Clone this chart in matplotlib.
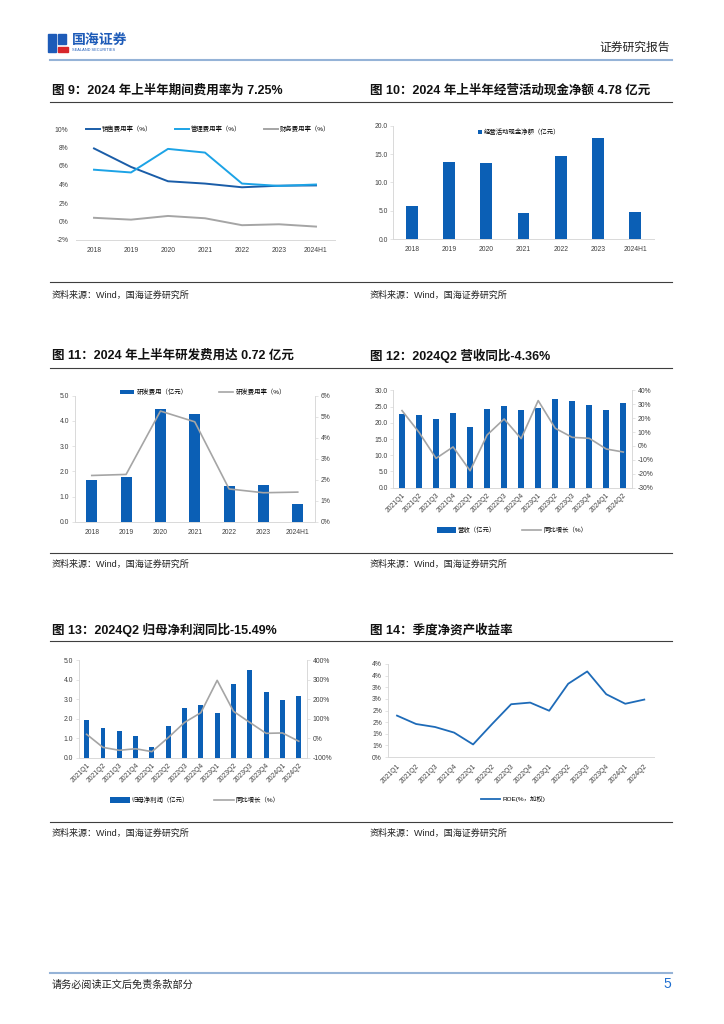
import matplotlib
matplotlib.use("Agg")
import matplotlib.pyplot as plt
from matplotlib.lines import Line2D
from matplotlib.patches import Rectangle
from matplotlib.ticker import PercentFormatter, FixedLocator, FixedFormatter

plt.rcParams['font.family'] = ['Liberation Sans', 'Noto Sans CJK SC', 'DejaVu Sans']
plt.rcParams['axes.unicode_minus'] = False

W, H = 724, 1024

# ---- data ----
years = ["2018", "2019", "2020", "2021", "2022", "2023", "2024H1"]
quarters = ["2021Q1", "2021Q2", "2021Q3", "2021Q4", "2022Q1", "2022Q2", "2022Q3",
            "2022Q4", "2023Q1", "2023Q2", "2023Q3", "2023Q4", "2024Q1", "2024Q2"]

sales_rate = [7.9, 5.9, 4.35, 4.1, 3.7, 3.87, 3.9]      # 销售费用率 %
admin_rate = [5.6, 5.3, 7.85, 7.45, 4.1, 3.85, 4.0]     # 管理费用率 %
fin_rate = [0.4, 0.2, 0.6, 0.35, -0.4, -0.3, -0.55]     # 财务费用率 %

op_cash = [5.9, 13.6, 13.35, 4.6, 14.7, 17.8, 4.78]     # 经营活动现金净额 亿元

rd_exp = [1.67, 1.78, 4.49, 4.27, 1.42, 1.48, 0.72]     # 研发费用 亿元
rd_rate = [2.21, 2.26, 5.27, 4.76, 1.57, 1.39, 1.42]    # 研发费用率 %

revenue = [22.7, 22.5, 21.1, 22.9, 18.6, 24.3, 25.2, 23.9, 24.5, 27.2, 26.7, 25.5, 24.0, 26.1]
rev_yoy = [25.4, 9.8, -8.9, -0.7, -17.8, 7.9, 19.4, 5.3, 32.6, 12.7, 6.2, 5.5, -2.2, -4.36]

np_parent = [1.92, 1.52, 1.37, 1.12, 0.57, 1.61, 2.55, 2.71, 2.31, 3.78, 4.5, 3.37, 2.95, 3.18]
np_yoy = [20, -47, -62, -54, -69, 3, 81, 131, 297, 138, 81, 25, 27, -15.49]

roe = [1.78, 1.42, 1.29, 1.05, 0.54, 1.42, 2.27, 2.34, 1.99, 3.15, 3.68, 2.70, 2.29, 2.47]
roe_ticks = [0, 0.5, 1.0, 1.5, 2.0, 2.5, 3.0, 3.5, 4.0]
roe_tick_labels = ["0%", "1%", "1%", "2%", "2%", "3%", "3%", "4%", "4%"]

BAR = '#0B5FB5'
DARK = '#1A5DA8'
LIGHT = '#1CA3E6'
GREY = '#A5A5A5'
TXT = '#404040'
AX = '#D9D9D9'


def fp(x, y):
    return x / W, 1 - y / H


def axes_px(x0, ytop, x1, ybot):
    return fig.add_axes([x0 / W, 1 - ybot / H, (x1 - x0) / W, (ybot - ytop) / H])


def hline(y, x0=50, x1=672, color='#3F3F3F', lw=0.8):
    fig.add_artist(Line2D([x0 / W, x1 / W], [1 - y / H, 1 - y / H], color=color, lw=lw,
                          transform=fig.transFigure))


def text_px(x, y, s, **kw):
    fig.text(*fp(x, y), s, va='center', **kw)


def style(ax):
    for s in ['top', 'right']:
        ax.spines[s].set_visible(False)
    ax.spines['left'].set_color(AX)
    ax.spines['bottom'].set_color(AX)
    ax.spines['left'].set_linewidth(0.7)
    ax.spines['bottom'].set_linewidth(0.7)
    ax.tick_params(axis='y', labelsize=4.9, colors=AX, labelcolor=TXT, length=2, width=0.5, pad=2)
    ax.tick_params(axis='x', labelsize=4.9, labelcolor=TXT, length=0, pad=5)


def style_right(ax2):
    for s in ['top', 'left', 'bottom']:
        ax2.spines[s].set_visible(False)
    ax2.spines['right'].set_color(AX)
    ax2.spines['right'].set_linewidth(0.7)
    ax2.tick_params(axis='y', labelsize=4.9, colors=AX, labelcolor=TXT, length=2, width=0.5, pad=2)


def legend_px(ax, handles, labels, cx, cy, **kw):
    opts = dict(handlelength=2.2, handletextpad=0.3)
    opts.update(kw)
    ax.legend(handles, labels, loc='center', bbox_to_anchor=fp(cx, cy),
              bbox_transform=fig.transFigure, frameon=False, fontsize=4.6,
              borderaxespad=0, **opts)


fig = plt.figure(figsize=(W / 100, H / 100), dpi=100)

# ---- page header ----
fig.add_artist(Rectangle(fp(48, 52), 8 / W, 18 / H, color='#1D5BB8', transform=fig.transFigure))
fig.add_artist(Rectangle(fp(58, 44), 8 / W, 10 / H, color='#1D5BB8', transform=fig.transFigure))
fig.add_artist(Rectangle(fp(58, 52), 10 / W, 5 / H, color='#D7262B', transform=fig.transFigure))
text_px(72, 40, "国海证券", fontsize=10, fontweight='bold', color='#1D5BB8')
text_px(72, 50, "SEALAND SECURITIES", fontsize=2.8, color='#1D5BB8')
text_px(670, 48, "证券研究报告", fontsize=8.5, color='#222222', ha='right')
hline(60, color='#95B3D7', lw=1.5)

# ---- section titles and source lines ----
titles = [
    (52, 91, "图 9：2024 年上半年期间费用率为 7.25%"),
    (370, 91, "图 10：2024 年上半年经营活动现金净额 4.78 亿元"),
    (52, 356, "图 11：2024 年上半年研发费用达 0.72 亿元"),
    (370, 356, "图 12：2024Q2 营收同比-4.36%"),
    (52, 630, "图 13：2024Q2 归母净利润同比-15.49%"),
    (370, 630, "图 14：季度净资产收益率"),
]
for x, y, s in titles:
    text_px(x, y, s, fontsize=9, fontweight='bold', color='#111111')

for y in [102, 282, 368, 553, 641, 822]:
    hline(y)

for y in [295, 564, 833]:
    for x in [52, 370]:
        text_px(x, y, "资料来源：Wind，国海证券研究所", fontsize=6.5, color='#222222')

hline(973, color='#95B3D7', lw=1.5)
text_px(52, 985, "请务必阅读正文后免责条款部分", fontsize=7.3, color='#222222')
text_px(671, 984, "5", fontsize=10, color='#1F6FD0', ha='right')

# ---- 图9 ----
ax = axes_px(75.5, 129, 334.5, 240)
style(ax)
x = range(len(years))
l1, = ax.plot(x, sales_rate, color=DARK, lw=1.4)
l2, = ax.plot(x, admin_rate, color=LIGHT, lw=1.4)
l3, = ax.plot(x, fin_rate, color=GREY, lw=1.4)
ax.set_xlim(-0.5, len(years) - 0.5)
ax.set_ylim(-2, 10)
ax.set_yticks(range(-2, 11, 2))
ax.yaxis.set_major_formatter(PercentFormatter(decimals=0))
ax.set_xticks(list(x))
ax.set_xticklabels(years)
ax.spines['left'].set_visible(False)
ax.tick_params(axis='y', length=0, pad=5)
legend_px(ax, [l1, l2, l3], ["销售费用率（%）", "管理费用率（%）", "财务费用率（%）"], 208, 129,
          ncol=3, columnspacing=3.5)

# ---- 图10 ----
ax = axes_px(393.5, 125.7, 653.6, 239)
style(ax)
b = ax.bar(range(len(years)), op_cash, width=0.32, color=BAR)
ax.set_xlim(-0.5, len(years) - 0.5)
ax.set_ylim(0, 20)
ax.set_yticks([0, 5, 10, 15, 20])
ax.set_yticklabels([f"{v:.1f}" for v in [0, 5, 10, 15, 20]])
ax.set_xticks(range(len(years)))
ax.set_xticklabels(years)
legend_px(ax, [b], ["经营活动现金净额（亿元）"], 519, 132, handlelength=0.7, handleheight=0.7)

# ---- 图11 ----
ax = axes_px(74.6, 395.7, 314.9, 522)
style(ax)
b = ax.bar(range(len(years)), rd_exp, width=0.32, color=BAR)
ax.set_xlim(-0.5, len(years) - 0.5)
ax.set_ylim(0, 5)
ax.set_yticks(range(6))
ax.set_yticklabels([f"{v:.1f}" for v in range(6)])
ax.set_xticks(range(len(years)))
ax.set_xticklabels(years)
ax2 = ax.twinx()
style_right(ax2)
l, = ax2.plot(range(len(years)), rd_rate, color=GREY, lw=1.2)
ax2.set_ylim(0, 6)
ax2.set_yticks(range(7))
ax2.yaxis.set_major_formatter(PercentFormatter(decimals=0))
legend_px(ax2, [b, l], ["研发费用（亿元）", "研发费用率（%）"], 203, 392, ncol=2, columnspacing=5,
          handleheight=0.7)

# ---- 图12 ----
ax = axes_px(393.5, 390.3, 631.8, 487.7)
style(ax)
b = ax.bar(range(len(quarters)), revenue, width=0.35, color=BAR)
ax.set_xlim(-0.5, len(quarters) - 0.5)
ax.set_ylim(0, 30)
ax.set_yticks(range(0, 31, 5))
ax.set_yticklabels([f"{v:.1f}" for v in range(0, 31, 5)])
ax.set_xticks(range(len(quarters)))
ax.set_xticklabels(quarters, rotation=45, ha='right', rotation_mode='anchor')
ax.tick_params(axis='x', pad=3)
ax2 = ax.twinx()
style_right(ax2)
l, = ax2.plot(range(len(quarters)), rev_yoy, color=GREY, lw=1.2)
ax2.set_ylim(-30, 40)
ax2.set_yticks(range(-30, 41, 10))
ax2.yaxis.set_major_formatter(PercentFormatter(decimals=0))
legend_px(ax2, [b, l], ["营收（亿元）", "同比增长（%）"], 512, 530, ncol=2, columnspacing=4,
          handlelength=3, handleheight=0.9)

# ---- 图13 ----
ax = axes_px(78.5, 660.3, 306.9, 757.7)
style(ax)
b = ax.bar(range(len(quarters)), np_parent, width=0.3, color=BAR)
ax.set_xlim(-0.5, len(quarters) - 0.5)
ax.set_ylim(0, 5)
ax.set_yticks(range(6))
ax.set_yticklabels([f"{v:.1f}" for v in range(6)])
ax.set_xticks(range(len(quarters)))
ax.set_xticklabels(quarters, rotation=45, ha='right', rotation_mode='anchor')
ax.tick_params(axis='x', pad=3)
ax2 = ax.twinx()
style_right(ax2)
l, = ax2.plot(range(len(quarters)), np_yoy, color=GREY, lw=1.2)
ax2.set_ylim(-100, 400)
ax2.set_yticks(range(-100, 401, 100))
ax2.yaxis.set_major_formatter(PercentFormatter(decimals=0))
legend_px(ax2, [b, l], ["归母净利润（亿元）", "同比增长（%）"], 195, 800, ncol=2, columnspacing=4,
          handlelength=3, handleheight=0.9)

# ---- 图14 ----
ax = axes_px(387.5, 664, 653.8, 757)
style(ax)
l, = ax.plot(range(len(quarters)), roe, color='#1E6BB8', lw=1.3)
ax.set_xlim(-0.5, len(quarters) - 0.5)
ax.set_ylim(0, 4)
ax.yaxis.set_major_locator(FixedLocator(roe_ticks))
ax.yaxis.set_major_formatter(FixedFormatter(roe_tick_labels))
ax.set_xticks(range(len(quarters)))
ax.set_xticklabels(quarters, rotation=45, ha='right', rotation_mode='anchor')
ax.tick_params(axis='x', pad=4)
legend_px(ax, [l], ["ROE(%，加权)"], 513, 799, handlelength=3)

fig.savefig("out.png", dpi=100)
